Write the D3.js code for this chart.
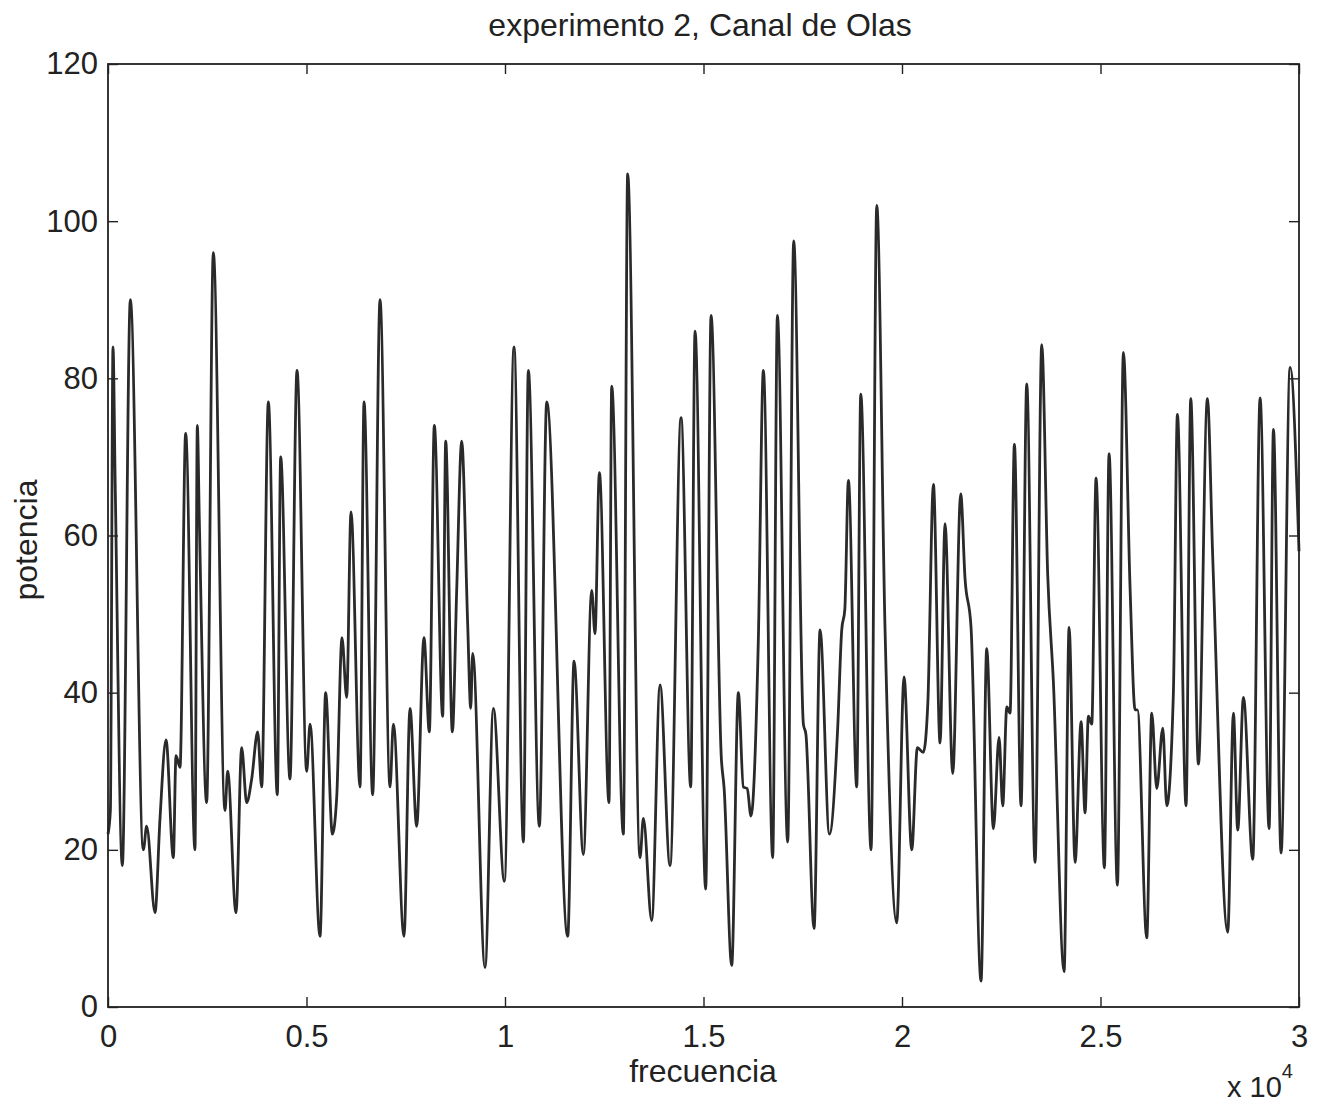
<!DOCTYPE html>
<html>
<head>
<meta charset="utf-8">
<script src="https://cdn.jsdelivr.net/npm/d3@7"></script>
<style>
  html, body { margin: 0; padding: 0; background: #fff; }
  svg { display: block; }
  text { font-family: "Liberation Sans", Arial, Helvetica, sans-serif; fill: #222; }
</style>
</head>
<body>
<svg id="chart" width="1317" height="1106"></svg>
<script>
// ---- data ----
const titleText = "experimento 2, Canal de Olas";
const xLabel = "frecuencia";
const yLabel = "potencia";
const xTickValues = [0, 5000, 10000, 15000, 20000, 25000, 30000];
const xTickLabels = ["0", "0.5", "1", "1.5", "2", "2.5", "3"];
const yTickValues = [0, 20, 40, 60, 80, 100, 120];
const frecuencia = [
  0, 60, 126, 180, 361, 563, 890, 974, 1184, 1310, 1461, 1646, 1713, 1814, 1956, 2191, 2250, 2300, 2485, 2653,
  2947, 3014, 3224, 3367, 3493, 3619, 3770, 3871, 4039, 4265, 4349, 4584, 4761, 5005, 5089, 5340, 5483, 5651, 5760, 5894,
  6012, 6121, 6348, 6449, 6667, 6852, 7104, 7188, 7456, 7607, 7775, 7959, 8094, 8220, 8430, 8506, 8674, 8783, 8909, 9060,
  9136, 9186, 9497, 9707, 9984, 10227, 10463, 10588, 10866, 11051, 11580, 11739, 11974, 12184, 12267, 12377, 12620, 12687, 12981, 13090,
  13401, 13485, 13695, 13905, 14157, 14434, 14678, 14787, 15055, 15190, 15450, 15520, 15710, 15878, 16004, 16100, 16197, 16380, 16508, 16743,
  16861, 17121, 17272, 17516, 17580, 17785, 17936, 18171, 18380, 18482, 18560, 18650, 18860, 18961, 19221, 19364, 19573, 19867, 20051, 20245,
  20387, 20538, 20650, 20791, 20959, 21084, 21278, 21479, 21588, 21739, 21991, 22134, 22302, 22445, 22537, 22640, 22722, 22831, 22999, 23142,
  23352, 23520, 23670, 23814, 24083, 24209, 24360, 24511, 24611, 24695, 24780, 24888, 25098, 25216, 25426, 25577, 25745, 25871, 25930, 26165,
  26291, 26417, 26569, 26669, 26836, 26937, 27155, 27273, 27466, 27693, 27827, 28205, 28348, 28457, 28600, 28835, 29020, 29247, 29356, 29549,
  29776, 30000
];
const potencia = [
  22, 25, 84, 67, 18, 90, 20, 23, 12, 24, 34, 19, 32, 30.5, 73, 20, 74, 62, 26, 96,
  25, 30, 12, 33, 26, 29, 35, 28, 77, 27, 70, 29, 81, 30, 36, 9, 40, 22, 26.6, 47,
  39.4, 63, 28, 77, 27, 90, 28, 36, 9, 38, 23, 47, 35, 74, 37, 72, 35, 53, 72, 48.7,
  38, 45, 5, 38, 16, 84, 21, 81, 23, 77, 9, 44, 19.4, 53, 47.5, 68, 26, 79, 22, 106,
  19, 24, 11, 41, 18, 75, 28, 86, 15, 88, 31.6, 27.8, 5.3, 40, 28, 27.8, 24.3, 46.4, 81, 19,
  88, 21, 97.5, 36, 34.7, 10, 48, 22, 35.5, 48, 50.6, 67, 28, 78, 20, 102, 48, 10.7, 42, 20,
  33, 32.4, 38.6, 66.5, 33.6, 61.5, 29.7, 65.3, 54.5, 48.3, 3.3, 45.6, 22.7, 34.3, 25.6, 38.2, 37.4, 71.6, 25.6, 79.3,
  18.4, 84.3, 55, 41.3, 4.5, 48.3, 18.4, 36.3, 24.7, 37, 36, 67.3, 17.7, 70.4, 15.5, 83.3, 53.3, 37.8, 37.8, 8.8,
  37.4, 27.8, 35.5, 25.6, 40, 75.4, 25.6, 77.4, 30.9, 77.4, 57.2, 9.5, 37.4, 22.5, 39.4, 18.8, 77.5, 22.7, 73.5, 19.6,
  81.4, 58
];

// ---- layout ----
const plot = { left: 108, right: 1299, top: 64, bottom: 1007 };
const svg = d3.select("#chart");

const x = d3.scaleLinear().domain([0, 30000]).range([plot.left, plot.right]);
const y = d3.scaleLinear().domain([0, 120]).range([plot.bottom, plot.top]);

const points = frecuencia.map((f, i) => [f, potencia[i]]);

// data line
svg.append("path")
  .datum(points)
  .attr("fill", "none")
  .attr("stroke", "#2a2a2a")
  .attr("stroke-width", 2.8)
  .attr("stroke-linejoin", "round")
  .attr("d", d3.line().x(d => x(d[0])).y(d => y(d[1])).curve(d3.curveMonotoneX));

// axes (inward ticks, box style)
const tickLen = 10;
const fmtX = d => xTickLabels[xTickValues.indexOf(d)];

function styleAxis(g) {
  g.select(".domain").remove();
  g.selectAll(".tick line").attr("stroke", "#222").attr("stroke-width", 1.4);
  g.selectAll("text").attr("font-size", 31).attr("fill", "#222")
    .attr("font-family", "'Liberation Sans', Arial, Helvetica, sans-serif");
}

svg.append("g").attr("transform", `translate(0,${plot.bottom})`)
  .call(d3.axisBottom(x).tickValues(xTickValues).tickFormat(fmtX).tickSize(-tickLen).tickPadding(18))
  .call(styleAxis);
svg.append("g").attr("transform", `translate(0,${plot.top})`)
  .call(d3.axisTop(x).tickValues(xTickValues).tickFormat("").tickSize(-tickLen))
  .call(styleAxis);
svg.append("g").attr("transform", `translate(${plot.left},0)`)
  .call(d3.axisLeft(y).tickValues(yTickValues).tickFormat(d3.format("d")).tickSize(-tickLen).tickPadding(10))
  .call(styleAxis);
svg.append("g").attr("transform", `translate(${plot.right},0)`)
  .call(d3.axisRight(y).tickValues(yTickValues).tickFormat("").tickSize(-tickLen))
  .call(styleAxis);

// frame
svg.append("rect")
  .attr("x", plot.left).attr("y", plot.top)
  .attr("width", plot.right - plot.left).attr("height", plot.bottom - plot.top)
  .attr("fill", "none").attr("stroke", "#222").attr("stroke-width", 1.8);

// title and labels
svg.append("text").attr("x", 700).attr("y", 36)
  .attr("text-anchor", "middle").attr("font-size", 32).text(titleText);
svg.append("text").attr("x", 703).attr("y", 1082)
  .attr("text-anchor", "middle").attr("font-size", 32).text(xLabel);
svg.append("text")
  .attr("transform", "translate(37,540) rotate(-90)")
  .attr("text-anchor", "middle").attr("font-size", 32).text(yLabel);

// x 10^4 multiplier
const mult = svg.append("text").attr("x", 1227).attr("y", 1097).attr("font-size", 29);
mult.append("tspan").text("x 10");
mult.append("tspan").attr("dy", -19).attr("font-size", 20).text("4");
</script>
</body>
</html>
